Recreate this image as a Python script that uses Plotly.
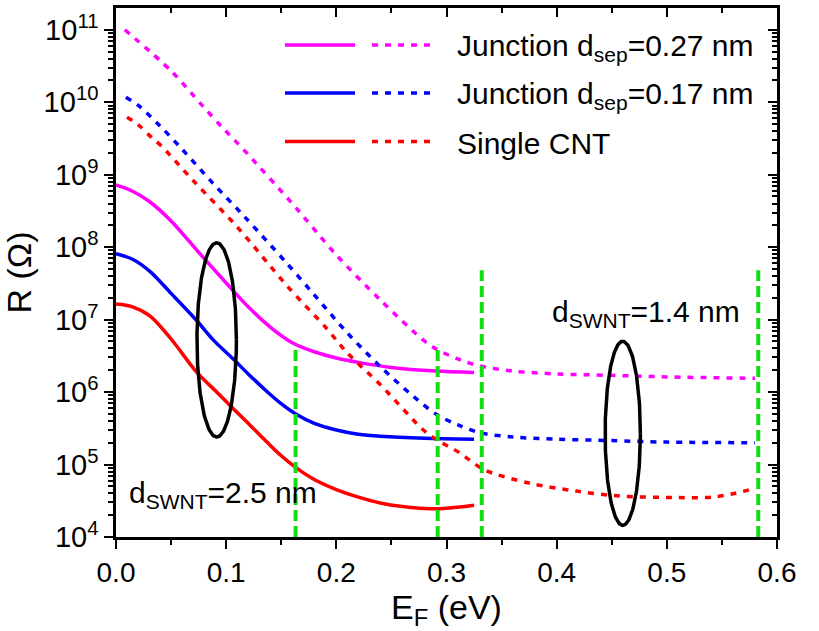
import numpy as np
import plotly.graph_objects as go

# ---- Resistance vs Fermi energy (solid: d_SWNT = 2.5 nm, dotted: d_SWNT = 1.4 nm) ----
ef_j027_a = [0, 0.015, 0.03, 0.05, 0.075, 0.1, 0.12, 0.14, 0.16, 0.18, 0.2, 0.22, 0.25, 0.29, 0.325]
r_j027_a = [7.2e8, 5.9e8, 4.3e8, 2.3e8, 8.5e7, 3.2e7, 1.5e7, 7.9e6, 4.8e6, 3.6e6, 2.95e6, 2.57e6, 2.19e6, 1.95e6, 1.86e6]

ef_j017_a = [0, 0.015, 0.031, 0.05, 0.073, 0.088, 0.106, 0.12, 0.137, 0.149, 0.164, 0.18, 0.2, 0.22, 0.24, 0.28, 0.325]
r_j017_a = [8.1e7, 6.8e7, 4.6e7, 2.3e7, 9.8e6, 5.3e6, 2.9e6, 1.78e6, 1.02e6, 7.1e5, 4.9e5, 3.7e5, 3.0e5, 2.62e5, 2.45e5, 2.3e5, 2.24e5]

ef_cnt_a = [0, 0.015, 0.031, 0.05, 0.073, 0.09, 0.106, 0.12, 0.137, 0.15, 0.164, 0.18, 0.2, 0.22, 0.24, 0.26, 0.28, 0.3, 0.325]
r_cnt_a = [1.64e7, 1.5e7, 1.12e7, 5.4e6, 1.9e6, 1.05e6, 6.0e5, 3.7e5, 2.04e5, 1.32e5, 8.9e4, 6.2e4, 4.5e4, 3.55e4, 2.95e4, 2.63e4, 2.47e4, 2.5e4, 2.75e4]

ef_j027_b = [0.008, 0.05, 0.078, 0.097, 0.116, 0.164, 0.199, 0.24, 0.279, 0.291, 0.312, 0.33, 0.36, 0.4, 0.45, 0.5, 0.58]
r_j027_b = [1.0e11, 2.7e10, 9.1e9, 4.4e9, 2.2e9, 3.4e8, 8.1e7, 1.86e7, 5.2e6, 3.9e6, 2.8e6, 2.3e6, 1.95e6, 1.78e6, 1.7e6, 1.62e6, 1.55e6]

ef_j017_b = [0.009, 0.02, 0.04, 0.06, 0.088, 0.117, 0.155, 0.18, 0.209, 0.24, 0.27, 0.291, 0.31, 0.33, 0.36, 0.4, 0.45, 0.5, 0.58]
r_j017_b = [1.17e10, 9.1e9, 4.7e9, 2.24e9, 7.6e8, 2.6e8, 6.0e7, 2.2e7, 6.8e6, 2.24e6, 8.7e5, 4.9e5, 3.55e5, 2.75e5, 2.4e5, 2.24e5, 2.14e5, 2.04e5, 2.0e5]

ef_cnt_b = [0.01, 0.02, 0.031, 0.041, 0.07, 0.11, 0.155, 0.191, 0.209, 0.24, 0.279, 0.291, 0.312, 0.334, 0.376, 0.418, 0.455, 0.509, 0.545, 0.578]
r_cnt_b = [6.2e9, 4.9e9, 3.4e9, 2.5e9, 8.3e8, 1.9e8, 2.95e7, 7.6e6, 3.6e6, 1.26e6, 3.0e5, 2.2e5, 1.45e5, 8.5e4, 5.5e4, 4.3e4, 3.7e4, 3.5e4, 3.6e4, 4.6e4]

# vertical markers (energy, lower and upper end)
marker_ef = [0.163, 0.292, 0.332, 0.583]
marker_bottom = 1e4
marker_top = [4.5e6, 4.5e6, 4.8e7, 4.8e7]

# ellipses grouping the curves: (centre E, half-width E, centre log10 R, half-height in decades)
ellipse_a = (0.0914, 0.0179, 6.72, 1.34)
ellipse_b = (0.460, 0.016, 5.43, 1.27)

x_ticks = [0.0, 0.1, 0.2, 0.3, 0.4, 0.5, 0.6]
y_exps = [4, 5, 6, 7, 8, 9, 10, 11]

MAGENTA = "#FF00FF"
BLUE = "#0000FF"
RED = "#FF0000"
GREEN = "#10E010"
FONT = "Arial, Liberation Sans, sans-serif"

W, H = 819, 631
ML, MR, MT, MB = 116, 42, 8, 94
PW, PH = W - ML - MR, H - MT - MB

fig = go.Figure()

LW = 3.5
DOT = "6px,7px"
series = [
    (ef_j027_a, r_j027_a, MAGENTA, "solid"),
    (ef_j017_a, r_j017_a, BLUE, "solid"),
    (ef_cnt_a, r_cnt_a, RED, "solid"),
    (ef_j027_b, r_j027_b, MAGENTA, DOT),
    (ef_j017_b, r_j017_b, BLUE, DOT),
    (ef_cnt_b, r_cnt_b, RED, DOT),
]
for xs, ys, col, dash in series:
    fig.add_trace(go.Scatter(x=xs, y=ys, mode="lines",
                             line=dict(color=col, width=LW, dash=dash, shape="spline", smoothing=0.9),
                             showlegend=False, hoverinfo="skip"))

t = np.linspace(0, 2 * np.pi, 200)
for cx, rx, cy, ry in (ellipse_a, ellipse_b):
    fig.add_trace(go.Scatter(x=cx + rx * np.cos(t), y=10 ** (cy + ry * np.sin(t)), mode="lines",
                             line=dict(color="black", width=3.5),
                             showlegend=False, hoverinfo="skip"))

# invisible trace carrying the mirrored top/right axes
fig.add_trace(go.Scatter(x=[0.3], y=[1e6], xaxis="x2", yaxis="y2", mode="markers",
                         marker=dict(opacity=0), showlegend=False, hoverinfo="skip"))


def px(xp):
    return (xp - ML) / PW


def py(yp):
    return (MT + PH - yp) / PH


# hand-built legend: solid and dotted sample for each curve family
legend_rows = [
    (MAGENTA, "Junction d<sub>sep</sub>=0.27 nm", 45),
    (BLUE, "Junction d<sub>sep</sub>=0.17 nm", 93),
    (RED, "Single CNT", 141.5),
]
for col, label, yrow in legend_rows:
    fig.add_shape(type="line", xref="paper", yref="paper", x0=px(285), x1=px(355), y0=py(yrow), y1=py(yrow),
                  line=dict(color=col, width=LW))
    fig.add_shape(type="line", xref="paper", yref="paper", x0=px(372), x1=px(437), y0=py(yrow), y1=py(yrow),
                  line=dict(color=col, width=LW, dash=DOT))
    fig.add_annotation(text=label, xref="paper", yref="paper", x=px(455), y=py(yrow + 2),
                       xanchor="left", yanchor="middle", showarrow=False,
                       font=dict(family=FONT, size=30, color="black"))

fig.add_annotation(text="d<sub>SWNT</sub>=2.5 nm", xref="x", yref="y", x=0.01, y=4.58,
                   xanchor="left", yanchor="middle", showarrow=False,
                   font=dict(family=FONT, size=30, color="black"))
fig.add_annotation(text="d<sub>SWNT</sub>=1.4 nm", xref="x", yref="y", x=0.394, y=7.09,
                   xanchor="left", yanchor="middle", showarrow=False,
                   font=dict(family=FONT, size=30, color="black"))

# green markers are drawn as shapes so they sit above the text labels
for xv, top in zip(marker_ef, marker_top):
    fig.add_shape(type="line", xref="x", yref="y", x0=xv, x1=xv, y0=marker_bottom, y1=top,
                  line=dict(color=GREEN, width=4, dash="11px,5px"), layer="above")

y_minor = [m * 10 ** e for e in range(4, 12) for m in range(2, 10) if m * 10 ** e < 2e11]
y_tickvals = [10 ** e for e in y_exps]
y_ticktext = ["10<sup>%d</sup>" % e for e in y_exps]

axis_common = dict(showline=True, linecolor="black", linewidth=2.5, showgrid=False, zeroline=False,
                   tickcolor="black", tickwidth=2)

fig.update_layout(
    width=W, height=H,
    margin=dict(l=ML, r=MR, t=MT, b=MB),
    paper_bgcolor="white", plot_bgcolor="white",
    font=dict(family=FONT, color="black"),
    xaxis=dict(range=[0, 0.6], tickvals=x_ticks, ticktext=["%.1f" % v for v in x_ticks],
               ticks="outside", ticklen=9,
               minor=dict(dtick=0.05, ticks="outside", ticklen=5, tickwidth=2, tickcolor="black"),
               tickfont=dict(size=28), title=dict(text="E<sub>F</sub> (eV)", font=dict(size=34), standoff=12),
               **axis_common),
    yaxis=dict(type="log", range=[4, 11.3], tickvals=y_tickvals, ticktext=y_ticktext,
               ticks="outside", ticklen=9,
               minor=dict(tickvals=y_minor, ticks="outside", ticklen=5, tickwidth=2, tickcolor="black"),
               tickfont=dict(size=29), title=dict(text="R (Ω)", font=dict(size=34), standoff=2),
               **axis_common),
    xaxis2=dict(range=[0, 0.6], overlaying="x", side="top", anchor="y", tickvals=x_ticks,
                showticklabels=False, ticks="inside", ticklen=9,
                minor=dict(dtick=0.05, ticks="inside", ticklen=5, tickwidth=2, tickcolor="black"),
                **axis_common),
    yaxis2=dict(type="log", range=[4, 11.3], overlaying="y", side="right", anchor="x", tickvals=y_tickvals,
                showticklabels=False, ticks="inside", ticklen=9,
                minor=dict(tickvals=y_minor, ticks="inside", ticklen=5, tickwidth=2, tickcolor="black"),
                **axis_common),
)

fig.write_html("out.html")
